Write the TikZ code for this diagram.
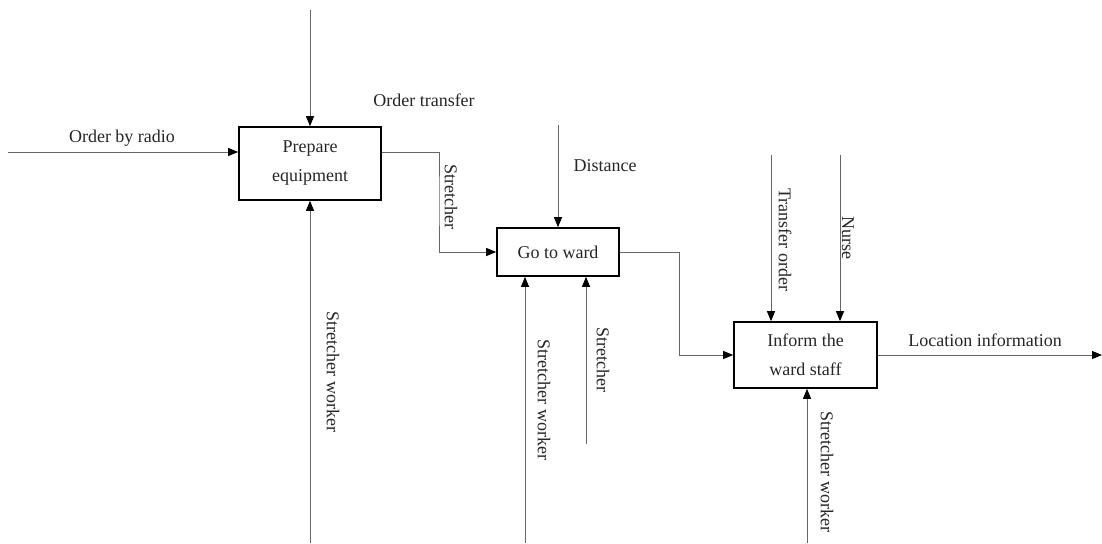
\documentclass[tikz,border=0pt]{standalone}
\usepackage{fontspec}
\setmainfont{Liberation Serif}
\usetikzlibrary{arrows.meta}
\begin{document}
\begin{tikzpicture}[x=1pt,y=-1pt,
  every node/.style={font=\fontsize{18}{29}\selectfont, text=black!85},
  fbox/.style={draw=black, line width=1.6pt, align=center, inner sep=0pt},
  arr/.style={draw=black!60, line width=0.9pt, -{Triangle[length=10pt,width=8pt,fill=black,color=black]}},
  ln/.style={draw=black!60, line width=0.9pt},
  vlab/.style={rotate=-90, inner sep=0pt},
  hlab/.style={inner sep=0pt}]
\useasboundingbox (0,0) rectangle (1102,543);
% boxes
\node[fbox, minimum width=142pt, minimum height=73pt] (b1) at (310,163.5) {Prepare\\equipment};
\node[fbox, minimum width=122pt, minimum height=48pt] (b2) at (558,252) {Go to ward};
\node[fbox, minimum width=143pt, minimum height=66pt] (b3) at (805.5,355) {Inform the\\ward staff};
% free ends
\coordinate (in1) at (8,152);
\coordinate (c1top) at (310,10);
\coordinate (c1bot) at (310,543);
\coordinate (m1) at (439,200);
\coordinate (c2top) at (558,125);
\coordinate (c2b1) at (525,543);
\coordinate (c2b2) at (586,444);
\coordinate (m2) at (679,300);
\coordinate (c3t1) at (771,155);
\coordinate (c3t2) at (840,155);
\coordinate (c3bot) at (807,543);
\coordinate (out3) at (1102,355);
% connectors
\draw[arr] (in1) -- (in1 -| b1.west);
\draw[arr] (c1top) -- (b1.north);
\draw[arr] (c1bot) -- (b1.south);
\draw[arr] (b1.east |- in1) -| (m1) |- (b2.west);
\draw[arr] (c2top) -- (b2.north);
\draw[arr] (c2b1) -- (c2b1 |- b2.south);
\draw[arr] (c2b2) -- (c2b2 |- b2.south);
\draw[arr] (b2.east) -| (m2) |- (b3.west);
\draw[arr] (c3t1) -- (c3t1 |- b3.north);
\draw[arr] (c3t2) -- (c3t2 |- b3.north);
\draw[arr] (c3bot) -- (c3bot |- b3.south);
\draw[arr] (b3.east) -- (out3);
% labels
\node[hlab] (l1) at (122,138) {Order by radio};
\node[hlab] (l2) at (424,100) {Order transfer};
\node[vlab] (l3) at (451,197) {Stretcher};
\node[vlab] (l4) at (333,372) {Stretcher worker};
\node[hlab] (l5) at (605,166) {Distance};
\node[vlab] (l6) at (544,400) {Stretcher worker};
\node[vlab] (l7) at (603,360) {Stretcher};
\node[vlab] (l8) at (785,240) {Transfer order};
\node[vlab] (l9) at (848,238) {Nurse};
\node[hlab] (l10) at (985,340) {Location information};
\node[vlab] (l11) at (827,472) {Stretcher worker};
\end{tikzpicture}
\end{document}
